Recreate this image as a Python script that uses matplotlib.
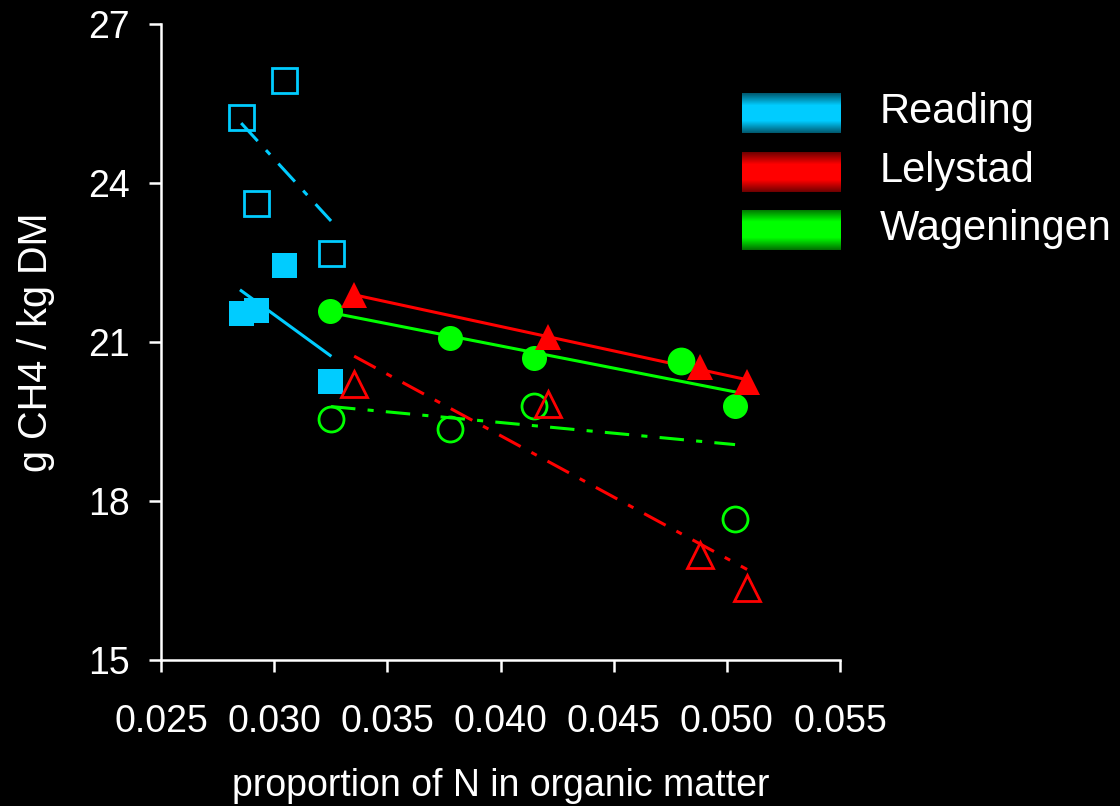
import matplotlib
matplotlib.use("Agg")
import matplotlib.pyplot as plt
from matplotlib.colors import LinearSegmentedColormap
import numpy as np

plt.rcParams["font.family"] = ["Liberation Sans", "DejaVu Sans"]

BG = "#000000"
FG = "#ffffff"
BLUE = "#00ccff"
RED = "#ff0000"
GREEN = "#00ff00"

# Reading
reading_open_x = [0.02854, 0.03043, 0.02920, 0.03251]
reading_open_y = [25.25, 25.94, 23.62, 22.68]
reading_fill_x = [0.02854, 0.02920, 0.03043, 0.03247]
reading_fill_y = [21.55, 21.60, 22.45, 20.26]

# Lelystad
lely_fill_x = [0.03353, 0.04210, 0.04881, 0.05089]
lely_fill_y = [21.89, 21.09, 20.53, 20.25]
lely_open_x = [0.03353, 0.04210, 0.04881, 0.05089]
lely_open_y = [20.21, 19.83, 16.98, 16.36]

# Wageningen
wag_fill_x = [0.03247, 0.03777, 0.04148, 0.04797, 0.05036]
wag_fill_y = [21.58, 21.08, 20.70, 20.64, 19.79]
wag_open_x = [0.03251, 0.03777, 0.04148, 0.04797, 0.05036]
wag_open_y = [19.55, 19.36, 19.79, 20.64, 17.66]

legend_labels = ["Reading", "Lelystad", "Wageningen"]
legend_colors = [BLUE, RED, GREEN]

DASHDOT = (0, (8, 4, 2, 4))


def trend(ax, xs, ys, color, ls):
    xs = np.asarray(xs)
    k, b = np.polyfit(xs, ys, 1)
    xx = np.array([xs.min(), xs.max()])
    ax.plot(xx, k * xx + b, color=color, lw=2.2, ls=ls, zorder=2)


fig = plt.figure(figsize=(11.2, 8.06), dpi=100, facecolor=BG)
ax = fig.add_axes([0.1438, 0.1811, 0.6063, 0.7891])
ax.set_facecolor(BG)

trend(ax, reading_open_x, reading_open_y, BLUE, DASHDOT)
trend(ax, reading_fill_x, reading_fill_y, BLUE, "-")
trend(ax, lely_fill_x, lely_fill_y, RED, "-")
trend(ax, lely_open_x, lely_open_y, RED, DASHDOT)
trend(ax, wag_fill_x, wag_fill_y, GREEN, "-")
trend(ax, wag_open_x, wag_open_y, GREEN, DASHDOT)

ax.plot(reading_open_x, reading_open_y, "s", ms=18, mfc="none", mec=BLUE,
        mew=2, ls="none", zorder=3)
ax.plot(reading_fill_x, reading_fill_y, "s", ms=18, mfc=BLUE, mec=BLUE,
        mew=0, ls="none", zorder=3)
ax.plot(wag_fill_x, wag_fill_y, "o", ms=18, mfc=GREEN, mec=GREEN,
        mew=0, ls="none", zorder=3)
ax.plot(wag_open_x, wag_open_y, "o", ms=18, mfc="none", mec=GREEN,
        mew=2, ls="none", zorder=3)
ax.plot(lely_fill_x, lely_fill_y, "^", ms=19, mfc=RED, mec=RED,
        mew=0, ls="none", zorder=4)
ax.plot(lely_open_x, lely_open_y, "^", ms=19, mfc="none", mec=RED,
        mew=2, ls="none", zorder=4)

ax.set_xlim(0.025, 0.055)
ax.set_ylim(15, 27)
ax.set_xticks(np.arange(0.025, 0.0551, 0.005))
ax.set_xticklabels([f"{v:.3f}" for v in np.arange(0.025, 0.0551, 0.005)])
ax.set_yticks([15, 18, 21, 24, 27])

for side in ["top", "right"]:
    ax.spines[side].set_visible(False)
for side in ["left", "bottom"]:
    ax.spines[side].set_color(FG)
    ax.spines[side].set_linewidth(1.8)
ax.tick_params(colors=FG, labelsize=27, length=8.5, width=1.8,
               direction="out")
ax.tick_params(axis="x", pad=23)
ax.tick_params(axis="y", pad=14)

ax.set_xlabel("proportion of N in organic matter", color=FG, fontsize=27,
              labelpad=20)
ax.set_ylabel("g CH4 / kg DM", color=FG, fontsize=28.5, labelpad=24)

# legend: shaded colour bars with labels
W, H = 1120, 806
bar_tops = [93, 152, 210]
for top, label, color in zip(bar_tops, legend_labels, legend_colors):
    cax = fig.add_axes([742 / W, 1 - (top + 40) / H, 99 / W, 40 / H])
    cmap = LinearSegmentedColormap.from_list(
        "shade", [(0, 0, 0), color, color, (0, 0, 0)])
    grad = np.concatenate([np.linspace(0.15, 0.45, 20),
                           np.linspace(0.55, 0.85, 20)]).reshape(-1, 1)
    cax.imshow(grad, aspect="auto", cmap=cmap, vmin=0, vmax=1,
               extent=[0, 1, 0, 1])
    cax.axis("off")
    fig.text(880 / W, 1 - (top + 19) / H, label, color=FG, fontsize=30,
             va="center", ha="left")

fig.savefig("out.png", dpi=100, facecolor=BG)
